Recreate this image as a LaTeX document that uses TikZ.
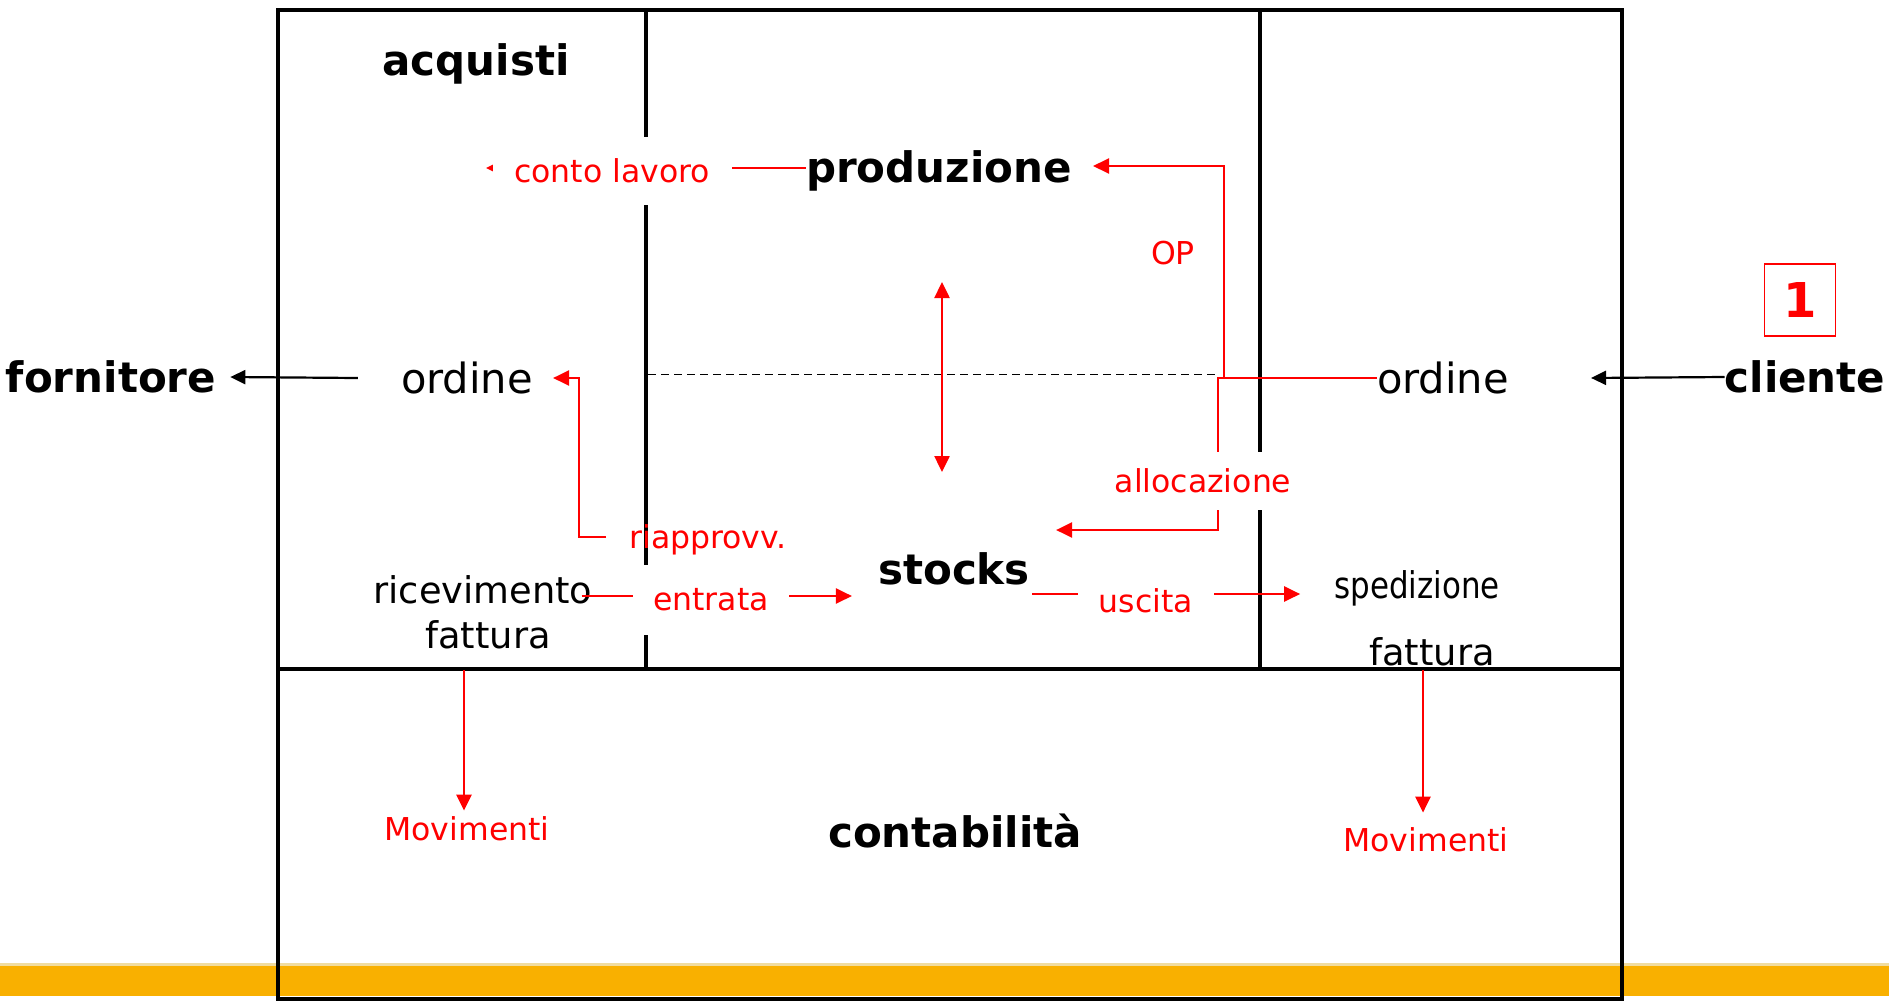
\documentclass[tikz,border=0pt]{standalone}
\usepackage{fontspec}
\setmainfont{DejaVu Sans}
\newfontfamily\condfont[FakeStretch=0.84]{DejaVu Sans}
\usetikzlibrary{arrows.meta}
\definecolor{rr}{RGB}{255,0,0}
\definecolor{orangebar}{RGB}{249,176,0}
\definecolor{barshade}{RGB}{240,220,160}
\begin{document}
\begin{tikzpicture}[x=1pt,y=-1pt,
  big/.style={font=\fontsize{42}{50}\selectfont\bfseries, inner sep=0pt},
  reg/.style={font=\fontsize{41.6}{50}\selectfont, inner sep=0pt},
  mid/.style={font=\fontsize{36.8}{44}\selectfont, inner sep=0pt},
  cond/.style={font=\condfont\fontsize{36.8}{44}\selectfont, inner sep=0pt},
  lab/.style={font=\fontsize{31.5}{38}\selectfont, text=rr, inner sep=0pt},
  labbox/.style={lab, fill=white},
  boxline/.style={line width=4pt},
  ra/.style={draw=rr, line width=2.5pt, -{Triangle[length=16pt,width=15pt]}},
  rda/.style={draw=rr, line width=2.5pt, {Triangle[length=16pt,width=15pt]}-{Triangle[length=16pt,width=15pt]}},
  ka/.style={draw=black, line width=2.2pt, -{Triangle[length=15pt,width=14pt]}},
]
\useasboundingbox (0,0) rectangle (1889,1001);
% bottom bar
\fill[barshade] (0,963) rectangle (1889,966);
\fill[orangebar] (0,966) rectangle (1889,996);
% frame
\draw[boxline] (278,10) rectangle (1621.5,998.5);
\draw[boxline] (278,668.6) -- (1621.5,668.6);
\draw[boxline] (646,10) -- (646,668.6);
\draw[boxline] (1260,10) -- (1260,668.6);
% dashed line
\coordinate (dashL) at (648,374.5);
\coordinate (dashR) at (1219,374.5);
\draw[line width=1.8pt, dash pattern=on 8pt off 5pt] (dashL) -- (dashR);
% text nodes
\node[big] (acq) at (476,64) {acquisti};
\node[big] (prod) at (939,171) {produzione};
\node[big] (forn) at (111,377) {fornitore};
\node[big] (cli) at (1805,377) {cliente};
\node[reg] (ordL) at (467,378) {ordine};
\node[reg] (ordR) at (1443,378) {ordine};
\node[big] (stocks) at (954,569) {stocks};
\node[big] (cont) at (955,831) {contabilità};
\node[mid] (ricev) at (483,590) {ricevimento};
\node[mid] (fattL) at (488,635) {fattura};
\node[cond] (sped) at (1417,588) {spedizione};
\node[mid] (fattR) at (1432,652) {fattura};
\node[lab] (op) at (1173,253) {OP};
\node[lab, inner xsep=23pt] (riap) at (708,540) {riapprovv.};
\node[lab] (movL) at (467,829) {Movimenti};
\node[lab] (movR) at (1426,840) {Movimenti};
\node[draw=rr, line width=1.5pt, minimum width=71pt, minimum height=72pt, inner sep=0pt,
      text=rr, font=\fontsize{48}{56}\selectfont\bfseries] (one) at (1800,300) {1};
% connectors
\coordinate (clEnd) at (486,168);
\draw[ra] (prod.west |- clEnd) -- (clEnd);
\coordinate (opTop) at (1224,166);
\draw[ra] (ordR.west) -| (opTop) -- ([xshift=21pt]prod.east |- opTop);
\coordinate (alBot) at (1218,530);
\draw[ra] (ordR.west) -| (alBot) -- ([xshift=26pt]stocks.east |- alBot);
\coordinate (daTop) at (942,282);
\coordinate (daBot) at (942,472);
\draw[rda] (daTop) -- (daBot);
\coordinate (riapCorner) at (579,537);
\draw[ra] (riap.west |- riapCorner) -- (riapCorner) |- ([xshift=20pt]ordL.east);
\draw[ka] ([xshift=-43pt]ordL.west) -- ([xshift=14pt]forn.east);
\draw[ka] (cli.west) -- ([xshift=82pt]ordR.east);
\coordinate (enY) at (0,596);
\draw[ra] ([xshift=-11pt]ricev.east |- enY) -- ([xshift=-26pt]stocks.west |- enY);
\coordinate (usY) at (0,594);
\draw[ra] ([xshift=2pt]stocks.east |- usY) -- ([xshift=-34pt]sped.west |- usY);
\coordinate (sepL) at (464,670);
\coordinate (sepR) at (1423,670);
\draw[ra] (sepL) -- ([yshift=6pt]movL.north -| sepL);
\draw[ra] (sepR) -- ([yshift=15pt]movR.north -| sepR);
% labels with white background
\node[labbox, minimum width=239pt, minimum height=68pt] (cl) at (612,171) {conto lavoro};
\node[labbox, minimum width=156pt, minimum height=70pt] (en) at (711,600) {entrata};
\node[labbox, minimum width=136pt, minimum height=60pt] (us) at (1146,601) {uscita};
\node[labbox, minimum width=196pt, minimum height=58pt] (al) at (1203,481) {allocazione};
\end{tikzpicture}
\end{document}
